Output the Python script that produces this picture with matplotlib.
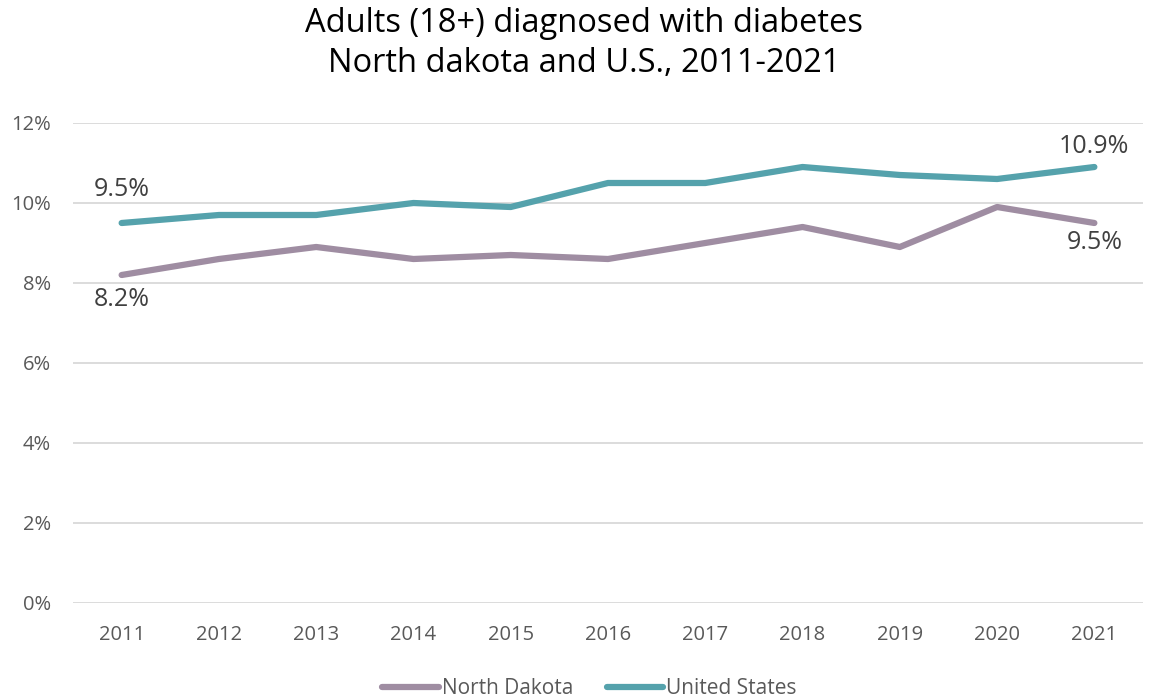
import numpy as np
import matplotlib.pyplot as plt
from matplotlib.ticker import FuncFormatter

plt.rcParams['font.family'] = ['Open Sans', 'DejaVu Sans']

years = [2011, 2012, 2013, 2014, 2015, 2016, 2017, 2018, 2019, 2020, 2021]
north_dakota = [8.2, 8.6, 8.9, 8.6, 8.7, 8.6, 9.0, 9.4, 8.9, 9.9, 9.5]
united_states = [9.5, 9.7, 9.7, 10.0, 9.9, 10.5, 10.5, 10.9, 10.7, 10.6, 10.9]

nd_color = '#9F8DA2'
us_color = '#55A2AC'
text_color = '#404040'

fig = plt.figure(figsize=(11.49, 6.97), dpi=100)
ax = fig.add_axes([73 / 1149, 94 / 697, 1070 / 1149, 480 / 697])

ax.plot(years, north_dakota, color=nd_color, lw=4.5, solid_capstyle='round', label='North Dakota')
ax.plot(years, united_states, color=us_color, lw=4.5, solid_capstyle='round', label='United States')

ax.set_xlim(2010.5, 2021.5)
ax.set_ylim(0, 12)
ax.set_xticks(years)
ax.set_yticks(np.arange(0, 13, 2))
ax.yaxis.set_major_formatter(FuncFormatter(lambda v, p: f'{v:.0f}%'))
ax.grid(axis='y', color='#D9D9D9', lw=1.3)
ax.set_axisbelow(True)
for s in ax.spines.values():
    s.set_visible(False)
ax.tick_params(length=0, labelsize=14.5, colors='#595959', pad=16)
ax.tick_params(axis='y', pad=16)

# data labels on first and last points
lab_size = 18
ax.annotate(f'{united_states[0]}%', (years[0], united_states[0]), xytext=(0, 15),
            textcoords='offset points', ha='center', va='bottom', fontsize=lab_size, color=text_color)
ax.annotate(f'{north_dakota[0]}%', (years[0], north_dakota[0]), xytext=(0, -9),
            textcoords='offset points', ha='center', va='top', fontsize=lab_size, color=text_color)
ax.annotate(f'{united_states[-1]}%', (years[-1], united_states[-1]), xytext=(0, 6),
            textcoords='offset points', ha='center', va='bottom', fontsize=lab_size, color=text_color)
ax.annotate(f'{north_dakota[-1]}%', (years[-1], north_dakota[-1]), xytext=(0, -5),
            textcoords='offset points', ha='center', va='top', fontsize=lab_size, color=text_color)

fig.text(0.508, 0.99, 'Adults (18+) diagnosed with diabetes\nNorth dakota and U.S., 2011-2021',
         ha='center', va='top', fontsize=23.5, color='black', linespacing=1.3)

fig.legend(loc='lower center', bbox_to_anchor=(0.513, -0.03), ncol=2, frameon=False,
           fontsize=15, handlelength=2.7, handletextpad=0.15, columnspacing=1.6,
           labelcolor='#595959')

fig.savefig('out.png', dpi=100)
